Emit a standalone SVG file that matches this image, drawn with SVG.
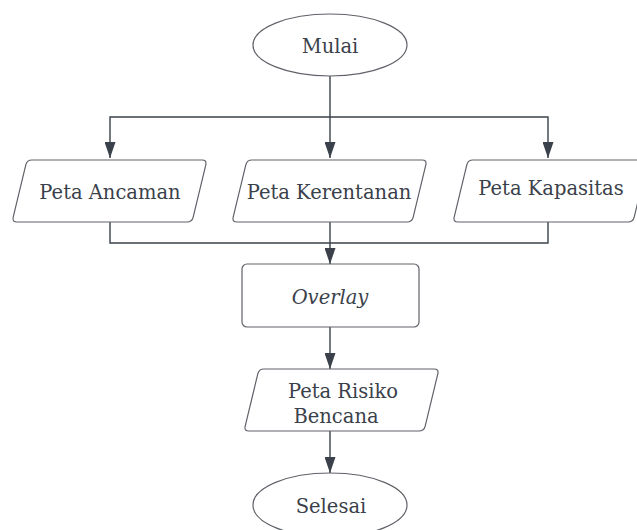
<svg xmlns="http://www.w3.org/2000/svg" width="637" height="530" viewBox="0 0 637 530">
  <style>
    .shape { fill: #ffffff; stroke: #5f6268; stroke-width: 1.2; }
    .label { font-family: "DejaVu Serif", "Liberation Serif", serif; font-size: 19.5px; fill: #3a414a; text-anchor: middle; }
    .conn { fill: none; stroke: #3a414a; stroke-width: 1.4; }
  </style>
  <defs>
    <!-- rounded parallelogram used for the input/output nodes -->
    <path id="para" d="M20,0 H190 Q195,0 193.8,4.9 L181.2,57.1 Q180,62 175,62 H5 Q0,62 1.2,57.1 L13.8,4.9 Q15,0 20,0 Z"/>
    <marker id="head" viewBox="0 0 16 11" refX="16" refY="5.5" markerWidth="16" markerHeight="11" markerUnits="userSpaceOnUse" orient="auto">
      <path d="M0,0 L16,5.5 L0,11 Z" fill="#3a414a"/>
    </marker>
  </defs>

  <rect width="637" height="530" fill="#ffffff"/>

  <g id="connectors">
    <path class="conn" d="M330,76 V158" marker-end="url(#head)"/>
    <path class="conn" d="M330,117 H110 V158" marker-end="url(#head)"/>
    <path class="conn" d="M330,117 H548 V158" marker-end="url(#head)"/>
    <path class="conn" d="M110,222 V243 H548 V222"/>
    <path class="conn" d="M330,222 V264" marker-end="url(#head)"/>
    <path class="conn" d="M330,327 V369" marker-end="url(#head)"/>
    <path class="conn" d="M330,431 V473" marker-end="url(#head)"/>
  </g>

  <g id="mulai">
    <ellipse class="shape" cx="330" cy="45" rx="77" ry="31"/>
    <text class="label" x="330" y="53">Mulai</text>
  </g>

  <g id="peta-ancaman">
    <use href="#para" class="shape" transform="translate(12,160)"/>
    <text class="label" x="110" y="199">Peta Ancaman</text>
  </g>

  <g id="peta-kerentanan">
    <use href="#para" class="shape" transform="translate(232,160)"/>
    <text class="label" x="329" y="199">Peta Kerentanan</text>
  </g>

  <g id="peta-kapasitas">
    <use href="#para" class="shape" transform="translate(453,160)"/>
    <text class="label" x="551" y="195">Peta Kapasitas</text>
  </g>

  <g id="overlay">
    <rect class="shape" x="242" y="264" width="177" height="63" rx="5"/>
    <text class="label" x="330" y="304" font-style="italic">Overlay</text>
  </g>

  <g id="peta-risiko">
    <use href="#para" class="shape" transform="translate(244,369)"/>
    <text class="label" x="343" y="398">Peta Risiko</text>
    <text class="label" x="336" y="423">Bencana</text>
  </g>

  <g id="selesai">
    <ellipse class="shape" cx="330" cy="505" rx="77" ry="32"/>
    <text class="label" x="331" y="513">Selesai</text>
  </g>
</svg>
